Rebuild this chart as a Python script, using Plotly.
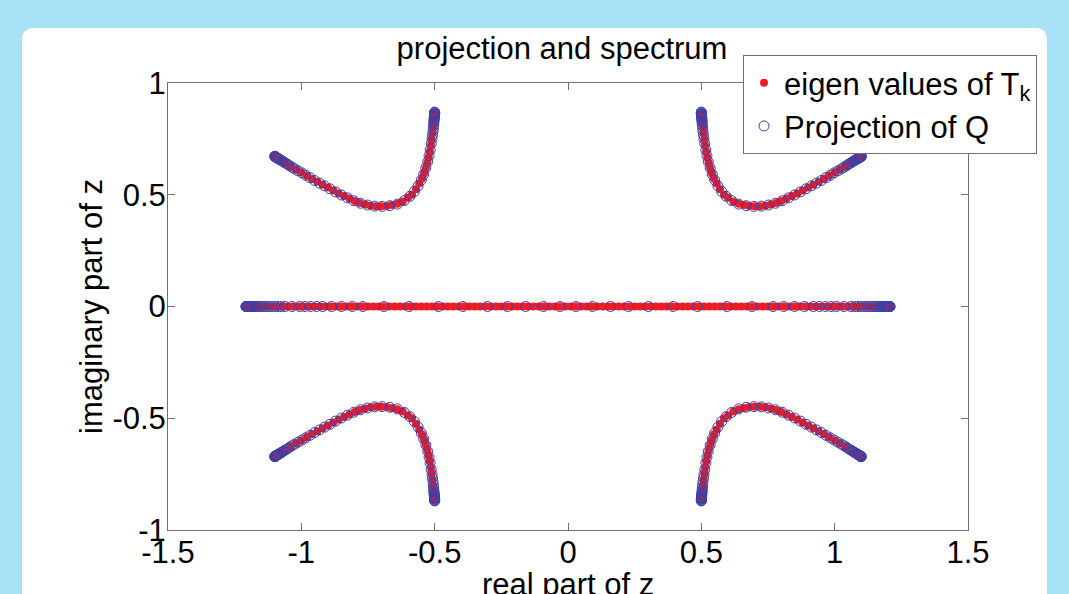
import plotly.graph_objects as go

# ---------------- data ----------------
# eigenvalues of T_k on the real axis (red dots)
real_red_re = [-1.21, -1.19, -1.17, -1.15, -1.13, -1.11, -1.09, -1.07, -1.05, -1.03,
               -1.01, -0.99, -0.97, -0.95, -0.93, -0.91, -0.89, -0.87, -0.85, -0.83,
               -0.81, -0.79, -0.77, -0.75, -0.73, -0.71, -0.69, -0.67, -0.65, -0.63,
               -0.61, -0.59, -0.57, -0.55, -0.53, -0.51, -0.49, -0.47, -0.45, -0.43,
               -0.41, -0.39, -0.37, -0.35, -0.33, -0.31, -0.29, -0.27, -0.25, -0.23,
               -0.21, -0.19, -0.17, -0.15, -0.13, -0.11, -0.09, -0.07, -0.05, -0.03,
               -0.01, 0.01, 0.03, 0.05, 0.07, 0.09, 0.11, 0.13, 0.15, 0.17,
               0.19, 0.21, 0.23, 0.25, 0.27, 0.29, 0.31, 0.33, 0.35, 0.37,
               0.39, 0.41, 0.43, 0.45, 0.47, 0.49, 0.51, 0.53, 0.55, 0.57,
               0.59, 0.61, 0.63, 0.65, 0.67, 0.69, 0.71, 0.73, 0.75, 0.77,
               0.79, 0.81, 0.83, 0.85, 0.87, 0.89, 0.91, 0.93, 0.95, 0.97,
               0.99, 1.01, 1.03, 1.05, 1.07, 1.09, 1.11, 1.13, 1.15, 1.17,
               1.19, 1.21]
real_red_im = [0.0] * len(real_red_re)

# projection of Q on the real axis (blue circles)
real_circ_re = [-1.208, -1.207, -1.206, -1.204, -1.202, -1.200, -1.197, -1.194, -1.191, -1.187,
                -1.183, -1.178, -1.173, -1.167, -1.161, -1.154, -1.147, -1.139, -1.130, -1.121,
                -1.111, -1.100, -1.088, -1.075, -1.061, -1.035, -1.006, -0.987, -0.965, -0.943,
                -0.920, -0.887, -0.850, -0.809, -0.769, -0.690, -0.596,
                -0.486, -0.394, -0.302, -0.227, -0.159, -0.092, -0.030,
                0.030, 0.092, 0.159, 0.227, 0.302, 0.394, 0.486,
                0.596, 0.690, 0.769, 0.809, 0.850, 0.887, 0.920, 0.943, 0.965, 0.987,
                1.006, 1.035, 1.061, 1.075, 1.088, 1.100, 1.111, 1.121, 1.130, 1.139,
                1.147, 1.154, 1.161, 1.167, 1.173, 1.178, 1.183, 1.187, 1.191, 1.194,
                1.197, 1.200, 1.202, 1.204, 1.206, 1.207, 1.208]
real_circ_im = [0.0] * len(real_circ_re)

# upper-left arc
ul_red_re = [-1.100, -1.080, -1.060, -1.040, -1.020, -1.000, -0.980, -0.960, -0.940, -0.920,
             -0.900, -0.880, -0.860, -0.840, -0.820, -0.800, -0.780, -0.760, -0.740, -0.720,
             -0.700, -0.680, -0.660, -0.640, -0.620, -0.600, -0.585, -0.570, -0.558, -0.548,
             -0.540, -0.533, -0.527, -0.522, -0.518, -0.514, -0.511, -0.508, -0.506, -0.504,
             -0.502, -0.501]
ul_red_im = [0.672, 0.657, 0.642, 0.627, 0.613, 0.599, 0.585, 0.571, 0.558, 0.545,
             0.532, 0.519, 0.506, 0.494, 0.483, 0.472, 0.463, 0.456, 0.451, 0.448,
             0.448, 0.450, 0.454, 0.460, 0.470, 0.488, 0.500, 0.525, 0.550, 0.572,
             0.595, 0.620, 0.645, 0.670, 0.695, 0.722, 0.748, 0.775, 0.800, 0.825,
             0.848, 0.866]
ul_circ_re = [-1.100, -1.099, -1.098, -1.097, -1.096, -1.094, -1.092, -1.090, -1.087, -1.084,
              -1.081, -1.077, -1.073, -1.068, -1.063, -1.057, -1.050, -1.043, -1.035, -1.025,
              -1.012, -0.998, -0.983, -0.967, -0.950, -0.932, -0.913, -0.893, -0.872, -0.850,
              -0.827, -0.803, -0.778, -0.752, -0.725, -0.697, -0.668,
              -0.640, -0.614, -0.593, -0.576, -0.562, -0.550, -0.541, -0.533, -0.526, -0.521,
              -0.517, -0.513, -0.510, -0.508, -0.506, -0.505, -0.504, -0.503, -0.503, -0.502,
              -0.502, -0.501, -0.501, -0.501, -0.500, -0.500, -0.500, -0.500, -0.500]
ul_circ_im = [0.672, 0.671, 0.670, 0.670, 0.669, 0.668, 0.666, 0.664, 0.662, 0.660,
              0.658, 0.655, 0.652, 0.648, 0.644, 0.640, 0.635, 0.629, 0.623, 0.616,
              0.607, 0.598, 0.587, 0.576, 0.564, 0.552, 0.540, 0.527, 0.513, 0.499,
              0.486, 0.473, 0.462, 0.454, 0.449, 0.448, 0.451,
              0.458, 0.474, 0.493, 0.515, 0.540, 0.566, 0.592, 0.620, 0.648, 0.675,
              0.700, 0.728, 0.750, 0.768, 0.784, 0.798, 0.810, 0.820, 0.828, 0.835,
              0.841, 0.846, 0.851, 0.855, 0.859, 0.862, 0.865, 0.868, 0.870]

# upper-right arc
ur_red_re = [1.100, 1.080, 1.060, 1.040, 1.020, 1.000, 0.980, 0.960, 0.940, 0.920,
             0.900, 0.880, 0.860, 0.840, 0.820, 0.800, 0.780, 0.760, 0.740, 0.720,
             0.700, 0.680, 0.660, 0.640, 0.620, 0.600, 0.585, 0.570, 0.558, 0.548,
             0.540, 0.533, 0.527, 0.522, 0.518, 0.514, 0.511, 0.508, 0.506, 0.504,
             0.502, 0.501]
ur_red_im = [0.672, 0.657, 0.642, 0.627, 0.613, 0.599, 0.585, 0.571, 0.558, 0.545,
             0.532, 0.519, 0.506, 0.494, 0.483, 0.472, 0.463, 0.456, 0.451, 0.448,
             0.448, 0.450, 0.454, 0.460, 0.470, 0.488, 0.500, 0.525, 0.550, 0.572,
             0.595, 0.620, 0.645, 0.670, 0.695, 0.722, 0.748, 0.775, 0.800, 0.825,
             0.848, 0.866]
ur_circ_re = [1.100, 1.099, 1.098, 1.097, 1.096, 1.094, 1.092, 1.090, 1.087, 1.084,
              1.081, 1.077, 1.073, 1.068, 1.063, 1.057, 1.050, 1.043, 1.035, 1.025,
              1.012, 0.998, 0.983, 0.967, 0.950, 0.932, 0.913, 0.893, 0.872, 0.850,
              0.827, 0.803, 0.778, 0.752, 0.725, 0.697, 0.668,
              0.640, 0.614, 0.593, 0.576, 0.562, 0.550, 0.541, 0.533, 0.526, 0.521,
              0.517, 0.513, 0.510, 0.508, 0.506, 0.505, 0.504, 0.503, 0.503, 0.502,
              0.502, 0.501, 0.501, 0.501, 0.500, 0.500, 0.500, 0.500, 0.500]
ur_circ_im = [0.672, 0.671, 0.670, 0.670, 0.669, 0.668, 0.666, 0.664, 0.662, 0.660,
              0.658, 0.655, 0.652, 0.648, 0.644, 0.640, 0.635, 0.629, 0.623, 0.616,
              0.607, 0.598, 0.587, 0.576, 0.564, 0.552, 0.540, 0.527, 0.513, 0.499,
              0.486, 0.473, 0.462, 0.454, 0.449, 0.448, 0.451,
              0.458, 0.474, 0.493, 0.515, 0.540, 0.566, 0.592, 0.620, 0.648, 0.675,
              0.700, 0.728, 0.750, 0.768, 0.784, 0.798, 0.810, 0.820, 0.828, 0.835,
              0.841, 0.846, 0.851, 0.855, 0.859, 0.862, 0.865, 0.868, 0.870]

# lower-left arc
ll_red_re = [-1.100, -1.080, -1.060, -1.040, -1.020, -1.000, -0.980, -0.960, -0.940, -0.920,
             -0.900, -0.880, -0.860, -0.840, -0.820, -0.800, -0.780, -0.760, -0.740, -0.720,
             -0.700, -0.680, -0.660, -0.640, -0.620, -0.600, -0.585, -0.570, -0.558, -0.548,
             -0.540, -0.533, -0.527, -0.522, -0.518, -0.514, -0.511, -0.508, -0.506, -0.504,
             -0.502, -0.501]
ll_red_im = [-0.672, -0.657, -0.642, -0.627, -0.613, -0.599, -0.585, -0.571, -0.558, -0.545,
             -0.532, -0.519, -0.506, -0.494, -0.483, -0.472, -0.463, -0.456, -0.451, -0.448,
             -0.448, -0.450, -0.454, -0.460, -0.470, -0.488, -0.500, -0.525, -0.550, -0.572,
             -0.595, -0.620, -0.645, -0.670, -0.695, -0.722, -0.748, -0.775, -0.800, -0.825,
             -0.848, -0.866]
ll_circ_re = [-1.100, -1.099, -1.098, -1.097, -1.096, -1.094, -1.092, -1.090, -1.087, -1.084,
              -1.081, -1.077, -1.073, -1.068, -1.063, -1.057, -1.050, -1.043, -1.035, -1.025,
              -1.012, -0.998, -0.983, -0.967, -0.950, -0.932, -0.913, -0.893, -0.872, -0.850,
              -0.827, -0.803, -0.778, -0.752, -0.725, -0.697, -0.668,
              -0.640, -0.614, -0.593, -0.576, -0.562, -0.550, -0.541, -0.533, -0.526, -0.521,
              -0.517, -0.513, -0.510, -0.508, -0.506, -0.505, -0.504, -0.503, -0.503, -0.502,
              -0.502, -0.501, -0.501, -0.501, -0.500, -0.500, -0.500, -0.500, -0.500]
ll_circ_im = [-0.672, -0.671, -0.670, -0.670, -0.669, -0.668, -0.666, -0.664, -0.662, -0.660,
              -0.658, -0.655, -0.652, -0.648, -0.644, -0.640, -0.635, -0.629, -0.623, -0.616,
              -0.607, -0.598, -0.587, -0.576, -0.564, -0.552, -0.540, -0.527, -0.513, -0.499,
              -0.486, -0.473, -0.462, -0.454, -0.449, -0.448, -0.451,
              -0.458, -0.474, -0.493, -0.515, -0.540, -0.566, -0.592, -0.620, -0.648, -0.675,
              -0.700, -0.728, -0.750, -0.768, -0.784, -0.798, -0.810, -0.820, -0.828, -0.835,
              -0.841, -0.846, -0.851, -0.855, -0.859, -0.862, -0.865, -0.868, -0.870]

# lower-right arc
lr_red_re = [1.100, 1.080, 1.060, 1.040, 1.020, 1.000, 0.980, 0.960, 0.940, 0.920,
             0.900, 0.880, 0.860, 0.840, 0.820, 0.800, 0.780, 0.760, 0.740, 0.720,
             0.700, 0.680, 0.660, 0.640, 0.620, 0.600, 0.585, 0.570, 0.558, 0.548,
             0.540, 0.533, 0.527, 0.522, 0.518, 0.514, 0.511, 0.508, 0.506, 0.504,
             0.502, 0.501]
lr_red_im = [-0.672, -0.657, -0.642, -0.627, -0.613, -0.599, -0.585, -0.571, -0.558, -0.545,
             -0.532, -0.519, -0.506, -0.494, -0.483, -0.472, -0.463, -0.456, -0.451, -0.448,
             -0.448, -0.450, -0.454, -0.460, -0.470, -0.488, -0.500, -0.525, -0.550, -0.572,
             -0.595, -0.620, -0.645, -0.670, -0.695, -0.722, -0.748, -0.775, -0.800, -0.825,
             -0.848, -0.866]
lr_circ_re = [1.100, 1.099, 1.098, 1.097, 1.096, 1.094, 1.092, 1.090, 1.087, 1.084,
              1.081, 1.077, 1.073, 1.068, 1.063, 1.057, 1.050, 1.043, 1.035, 1.025,
              1.012, 0.998, 0.983, 0.967, 0.950, 0.932, 0.913, 0.893, 0.872, 0.850,
              0.827, 0.803, 0.778, 0.752, 0.725, 0.697, 0.668,
              0.640, 0.614, 0.593, 0.576, 0.562, 0.550, 0.541, 0.533, 0.526, 0.521,
              0.517, 0.513, 0.510, 0.508, 0.506, 0.505, 0.504, 0.503, 0.503, 0.502,
              0.502, 0.501, 0.501, 0.501, 0.500, 0.500, 0.500, 0.500, 0.500]
lr_circ_im = [-0.672, -0.671, -0.670, -0.670, -0.669, -0.668, -0.666, -0.664, -0.662, -0.660,
              -0.658, -0.655, -0.652, -0.648, -0.644, -0.640, -0.635, -0.629, -0.623, -0.616,
              -0.607, -0.598, -0.587, -0.576, -0.564, -0.552, -0.540, -0.527, -0.513, -0.499,
              -0.486, -0.473, -0.462, -0.454, -0.449, -0.448, -0.451,
              -0.458, -0.474, -0.493, -0.515, -0.540, -0.566, -0.592, -0.620, -0.648, -0.675,
              -0.700, -0.728, -0.750, -0.768, -0.784, -0.798, -0.810, -0.820, -0.828, -0.835,
              -0.841, -0.846, -0.851, -0.855, -0.859, -0.862, -0.865, -0.868, -0.870]

x_tick_vals = [-1.5, -1, -0.5, 0, 0.5, 1, 1.5]
x_tick_text = ["-1.5", "-1", "-0.5", "0", "0.5", "1", "1.5"]
y_tick_vals = [-1, -0.5, 0, 0.5, 1]
y_tick_text = ["-1", "-0.5", "0", "0.5", "1"]

# ---------------- figure ----------------
W, H = 1069, 594
ML, MR, MT, MB = 168, 101, 83, 64
PW, PH = W - ML - MR, H - MT - MB


def px_x(p):
    return (p - ML) / PW


def px_y(p):
    return (H - MB - p) / PH


FONT = "Liberation Sans, Arial, Helvetica, sans-serif"
RED = "#ee1c25"
BLUE = "#3d3fa8"
AXIS = "#707070"
SKY = "#a8e2f6"

eig_re = real_red_re + ul_red_re + ur_red_re + ll_red_re + lr_red_re
eig_im = real_red_im + ul_red_im + ur_red_im + ll_red_im + lr_red_im
proj_re = real_circ_re + ul_circ_re + ur_circ_re + ll_circ_re + lr_circ_re
proj_im = real_circ_im + ul_circ_im + ur_circ_im + ll_circ_im + lr_circ_im

fig = go.Figure()
fig.add_trace(go.Scatter(
    x=eig_re, y=eig_im, mode="markers", name="eigen values of T<sub>k</sub>",
    marker=dict(symbol="circle", size=8, color=RED, line=dict(width=0)),
))
fig.add_trace(go.Scatter(
    x=proj_re, y=proj_im, mode="markers", name="Projection of Q",
    marker=dict(symbol="circle-open", size=10, color=BLUE, line=dict(width=1, color=BLUE)),
))

# white rounded panel behind the axes
x0, x1 = px_x(22), px_x(1047)
yt, yb = px_y(28), px_y(640)
rx, ry = 12 / PW, 12 / PH
panel_path = (f"M {x0},{yb} L {x0},{yt - ry} Q {x0},{yt} {x0 + rx},{yt} "
              f"L {x1 - rx},{yt} Q {x1},{yt} {x1},{yt - ry} L {x1},{yb} Z")

axis_common = dict(
    showgrid=False, zeroline=False, showline=True, linecolor=AXIS, linewidth=1,
    mirror="ticks", ticks="inside", ticklen=7, tickcolor=AXIS, tickwidth=1,
    automargin=False,
    tickfont=dict(family=FONT, size=31, color="black"),
)

fig.update_layout(
    width=W, height=H,
    margin=dict(l=ML, r=MR, t=MT, b=MB, pad=0, autoexpand=False),
    paper_bgcolor=SKY, plot_bgcolor="white",
    font=dict(family=FONT, size=31, color="black"),
    title=dict(text="projection and spectrum", x=px_x(562), xref="paper", xanchor="center",
               y=1 - 48 / H, yref="container", yanchor="middle",
               font=dict(family=FONT, size=31, color="black")),
    xaxis=dict(range=[-1.5, 1.5], tickvals=x_tick_vals, ticktext=x_tick_text,
               ticklabelstandoff=-5, **axis_common),
    yaxis=dict(range=[-1, 1], tickvals=y_tick_vals, ticktext=y_tick_text,
               ticklabelstandoff=-5,
               title=dict(text="imaginary part of z", standoff=0,
                          font=dict(family=FONT, size=31, color="black")),
               **axis_common),
    legend=dict(x=px_x(743), y=px_y(55), xanchor="left", yanchor="top",
                bgcolor="white", bordercolor=AXIS, borderwidth=1,
                font=dict(family=FONT, size=31, color="black"),
                tracegroupgap=0),
    shapes=[dict(type="path", xref="paper", yref="paper", path=panel_path,
                 fillcolor="white", line=dict(width=0), layer="below")],
    annotations=[dict(text="real part of z", xref="paper", yref="paper",
                      x=0.5, y=px_y(584), xanchor="center", yanchor="middle",
                      showarrow=False, font=dict(family=FONT, size=31, color="black"))],
    showlegend=True,
)

fig.write_html(
    "out.html",
    config={"displayModeBar": False},
    post_script=f"document.body.style.margin='0px'; document.body.style.background='{SKY}';",
)
